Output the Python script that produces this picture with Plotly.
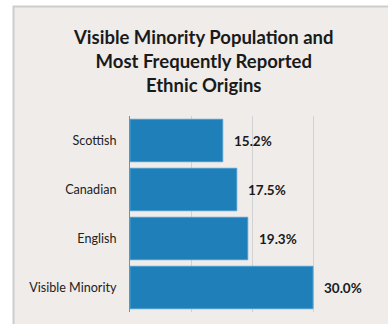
import plotly.graph_objects as go

categories = ["Scottish", "Canadian", "English", "Visible Minority"]
values = [15.2, 17.5, 19.3, 30.0]
value_labels = ["15.2%", "17.5%", "19.3%", "30.0%"]
title_text = "Visible Minority Population and<br>Most Frequently Reported<br>Ethnic Origins"

L, R, T, B = 130, 14, 116, 12
W, H = 388, 324
pw, ph = W - L - R, H - T - B

def px_x(p):
    return (p - L) / pw

def px_y(p):
    return (H - B - p) / ph

fig = go.Figure()
fig.add_trace(go.Bar(
    x=values, y=categories, orientation="h",
    marker=dict(color="#1f80b9", line=dict(color="#4c9ccf", width=1)),
    width=0.865, hoverinfo="skip",
))

for v, c, t in zip(values, categories, value_labels):
    fig.add_annotation(x=v, y=c, text=t, showarrow=False, xanchor="left",
                       xshift=9, font=dict(family="Lato", size=13.5, color="#1a1a1a", weight="bold"))

fig.add_shape(type="rect", xref="paper", yref="paper",
              x0=px_x(13.5), x1=px_x(400), y0=px_y(340), y1=px_y(6.5),
              fillcolor="#efecea", line=dict(color="#cdcdcd", width=2), layer="below")

fig.add_annotation(xref="paper", yref="paper", x=px_x(203), y=px_y(24),
                   xanchor="center", yanchor="top",
                   text=title_text, showarrow=False,
                   font=dict(family="Lato", size=18.5, color="#1a1a1a", weight="bold"))

fig.update_layout(
    width=W, height=H,
    margin=dict(l=L, r=R, t=T, b=B, pad=0),
    paper_bgcolor="white", plot_bgcolor="rgba(0,0,0,0)",
    showlegend=False,
    xaxis=dict(range=[0, 40], tickvals=[0, 10, 20, 30, 40], showticklabels=False,
               showgrid=True, gridcolor="#d2d2d4", gridwidth=1, zeroline=False,
               showline=False, fixedrange=True),
    yaxis=dict(autorange="reversed", showline=True, linecolor="#8a8a8a", linewidth=1,
               ticks="outside", ticklen=10, tickcolor="rgba(0,0,0,0)",
               tickfont=dict(family="Lato", size=12.6, color="#222222"), fixedrange=True),
)

fig.write_html("out.html", config={"displayModeBar": False},
               post_script="document.body.style.margin='0';")
